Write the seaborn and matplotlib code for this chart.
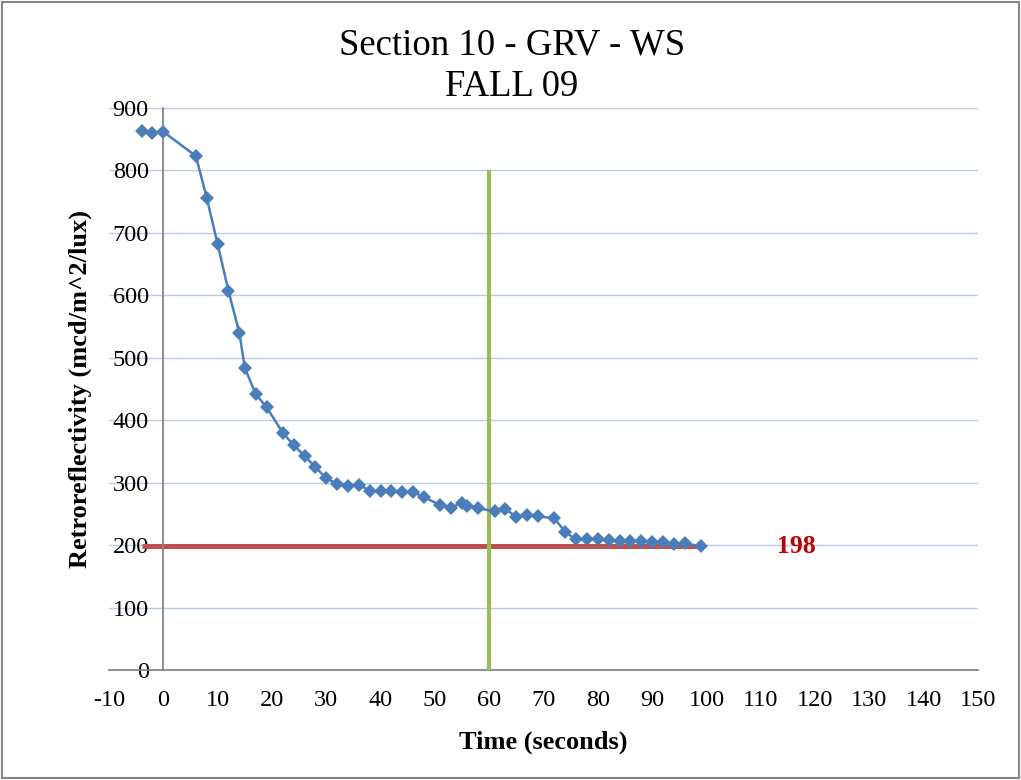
import matplotlib
matplotlib.use("Agg")
import matplotlib.pyplot as plt
import seaborn as sns
import pandas as pd
from matplotlib.patches import Rectangle

# ---- data ----
time_s = [-4, -2, 0, 6, 8, 10, 12, 14, 15, 17, 19, 22, 24, 26, 28, 30, 32, 34, 36,
          38, 40, 42, 44, 46, 48, 51, 53, 55, 56, 58, 61, 63, 65, 67, 69, 72, 74,
          76, 78, 80, 82, 84, 86, 88, 90, 92, 94, 96, 99]
retro = [863, 860, 862, 823, 756, 682, 607, 540, 484, 442, 421, 380, 360, 343, 325,
         307, 298, 295, 297, 287, 286, 286, 285, 285, 277, 264, 260, 268, 263, 259,
         254, 258, 245, 248, 246, 243, 221, 209, 209, 209, 208, 207, 207, 206, 205,
         205, 201, 203, 198]
threshold_value = 198
threshold_x = [-4, 99]
time_marker_x = [60, 60]
time_marker_y = [0, 800]
x_ticks = list(range(-10, 151, 10))
y_ticks = list(range(0, 901, 100))
title_text = "Section 10 - GRV - WS\nFALL 09"
x_label = "Time (seconds)"
y_label = "Retroreflectivity (mcd/m^2/lux)"

df = pd.DataFrame({"time": time_s, "retro": retro})
df_thr = pd.DataFrame({"x": threshold_x, "y": [threshold_value] * len(threshold_x)})
df_vert = pd.DataFrame({"x": time_marker_x, "y": time_marker_y})

sns.set_theme(style="white")
plt.rcParams["font.family"] = ["Liberation Serif", "DejaVu Serif"]
plt.rcParams["text.color"] = "black"
plt.rcParams["axes.labelcolor"] = "black"

fig = plt.figure(figsize=(10.21, 7.80), dpi=100)
ax = fig.add_axes([109 / 1021, 1 - 670 / 780, (978 - 109) / 1021, (670 - 108) / 780])

# gridlines
ax.set_axisbelow(True)
ax.yaxis.grid(True, color="#B9CDE5", linewidth=1.0)
ax.xaxis.grid(False)

sns.lineplot(data=df_thr, x="x", y="y", ax=ax, color="#C0504D", linewidth=3.6,
             solid_capstyle="butt", zorder=2, estimator=None)
sns.lineplot(data=df_vert, x="x", y="y", ax=ax, color="#9BBB59", linewidth=3.0,
             solid_capstyle="butt", zorder=3, estimator=None, orient="y")
sns.lineplot(data=df, x="time", y="retro", ax=ax, color="#4A7EBB", linewidth=1.8,
             marker="D", markersize=7.5, markeredgewidth=0, markerfacecolor="#4A7EBB",
             zorder=4, sort=False, estimator=None)

ax.text(116.5, threshold_value, str(threshold_value), color="#C00000",
        fontsize=18.5, fontweight="bold", ha="center", va="center")

ax.set_xlim(-10, 150)
ax.set_ylim(0, 900)
ax.set_xticks(x_ticks)
ax.set_yticks(y_ticks)
ax.set_xticklabels([str(v) for v in x_ticks])
ax.set_yticklabels([str(v) for v in y_ticks])

for side in ["top", "right"]:
    ax.spines[side].set_visible(False)
ax.spines["left"].set_position(("data", 0))
ax.spines["left"].set_color("#868686")
ax.spines["bottom"].set_color("#868686")
ax.spines["left"].set_linewidth(1.3)
ax.spines["bottom"].set_linewidth(1.3)
ax.tick_params(axis="both", which="major", labelsize=17.5, labelcolor="black",
               direction="out", length=5.5, width=1.3, color="#868686")
ax.tick_params(axis="y", pad=5)
ax.tick_params(axis="x", pad=9)

ax.set_xlabel(x_label, fontsize=19, fontweight="bold")
ax.set_ylabel(y_label, fontsize=19, fontweight="bold")
ax.yaxis.set_label_coords(-0.019, 0.5)
ax.xaxis.set_label_coords(0.5, -0.108)

fig.text(512 / 1021, 1 - 66 / 780, title_text, ha="center", va="center",
         fontsize=26.5, linespacing=1.3, color="black")

fig.add_artist(Rectangle((0.002, 0.002), 0.996, 0.995, transform=fig.transFigure,
                         fill=False, edgecolor="#868686", linewidth=1.5))

fig.savefig("out.png", dpi=100, facecolor="white")
